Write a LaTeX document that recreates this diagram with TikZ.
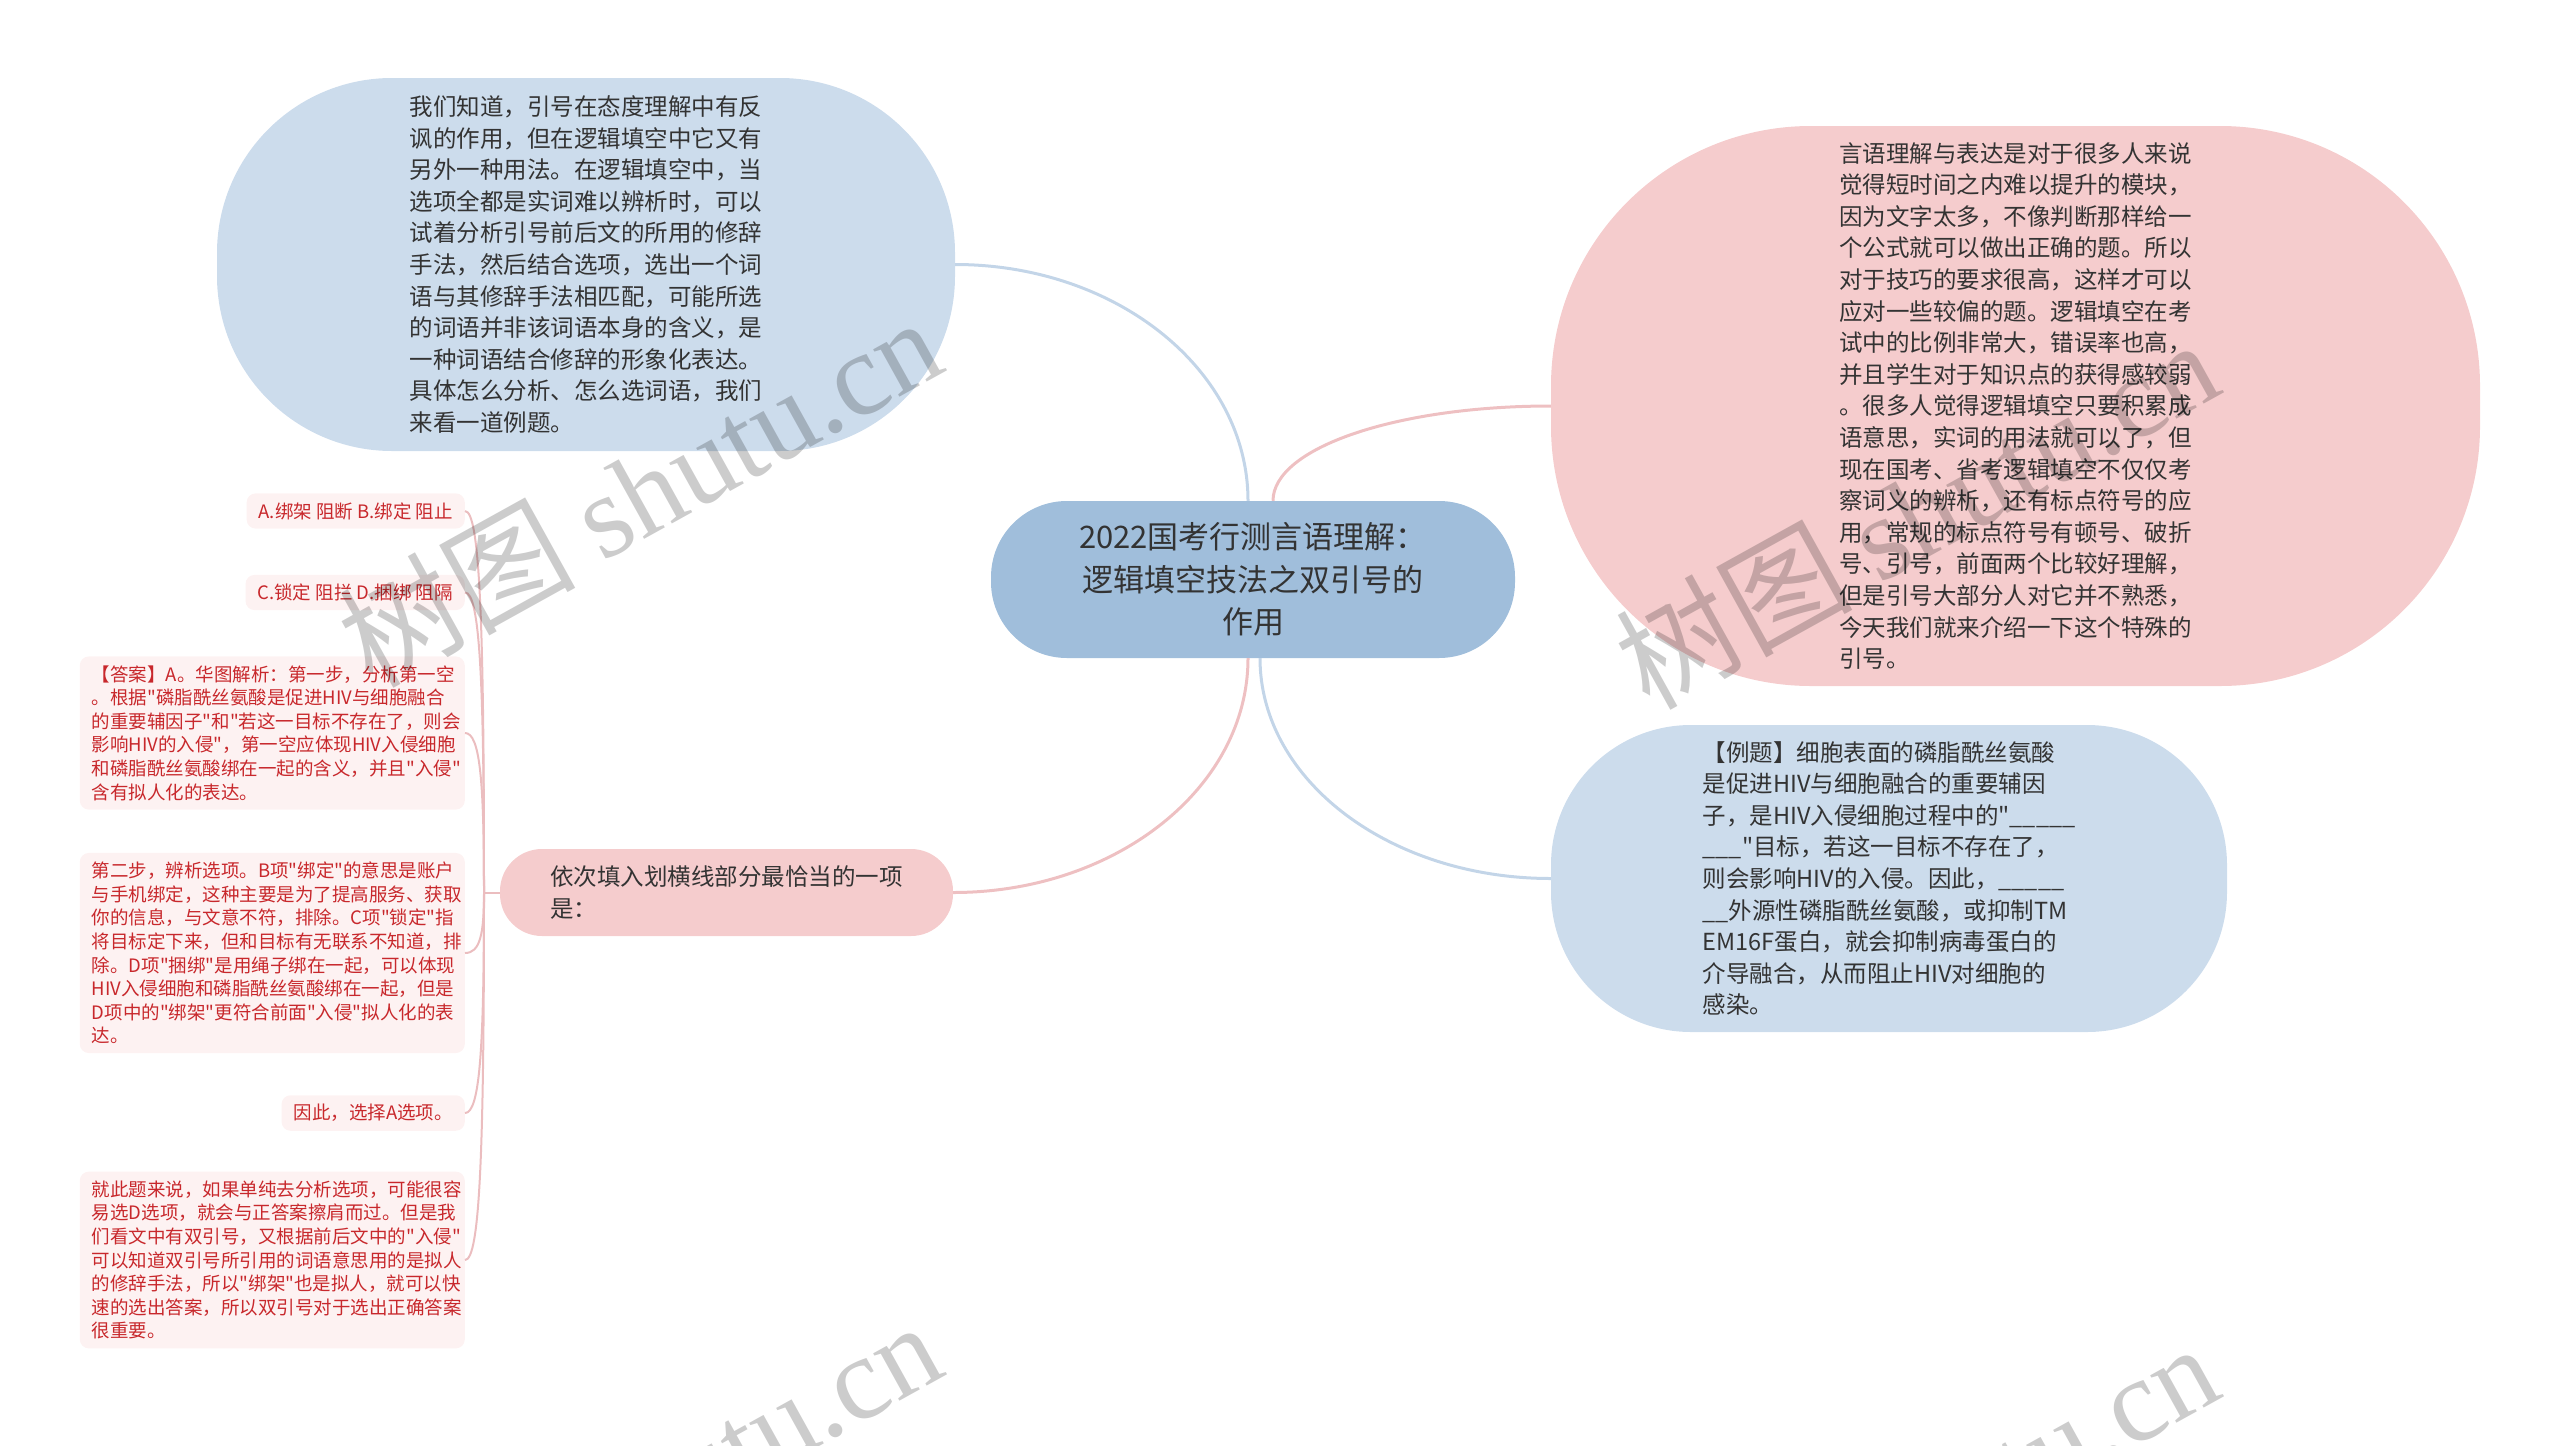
\documentclass[tikz,border=0pt]{standalone}
\usepackage{fontspec}
\setmainfont{Noto Sans CJK SC}[Ligatures=TeXOff]
\newfontfamily\wmlatin{Liberation Serif}
\definecolor{cnode}{HTML}{A0BEDB}
\definecolor{bnode}{HTML}{CCDCEC}
\definecolor{pnode}{HTML}{F5CCCD}
\definecolor{leaffill}{HTML}{FDF2F2}
\definecolor{leaftext}{HTML}{C8282C}
\definecolor{darktext}{HTML}{333333}
\definecolor{blueline}{HTML}{C3D5E8}
\definecolor{pinkline}{HTML}{EEC0C2}
\definecolor{leafline}{HTML}{EBBDBF}
\begin{document}
\begin{tikzpicture}[x=1pt,y=-1pt,
  bubble/.style={rectangle, inner sep=0pt, align=left, text=darktext, font=\fontsize{23.5}{31.6}\selectfont},
  leafbox/.style={rectangle, rounded corners=9pt, fill=leaffill, text=leaftext, align=left, inner xsep=12pt, inner ysep=9pt, anchor=east, font=\fontsize{18.5}{23.6}\selectfont},
  bline/.style={draw=blueline, line width=3pt},
  pline/.style={draw=pinkline, line width=3pt},
  lline/.style={draw=leafline, line width=2pt},
  wm/.style={anchor=base, rotate=29, text=black, opacity=0.2, font=\fontsize{118}{118}\selectfont}
]
\useasboundingbox (0,0) rectangle (2560,1446);
\clip (0,0) rectangle (2560,1446);

% main nodes
\node[bubble, fill=bnode, rounded corners=175pt, minimum width=738pt, minimum height=373pt] (tl) at (586,264.5)
{我们知道，引号在态度理解中有反\\讽的作用，但在逻辑填空中它又有\\另外一种用法。在逻辑填空中，当\\选项全都是实词难以辨析时，可以\\试着分析引号前后文的所用的修辞\\手法，然后结合选项，选出一个词\\语与其修辞手法相匹配，可能所选\\的词语并非该词语本身的含义，是\\一种词语结合修辞的形象化表达。\\具体怎么分析、怎么选词语，我们\\来看一道例题。};

\node[bubble, fill=pnode, rounded corners=260pt, minimum width=929pt, minimum height=560pt] (rp) at (2015.5,406)
{言语理解与表达是对于很多人来说\\觉得短时间之内难以提升的模块，\\因为文字太多，不像判断那样给一\\个公式就可以做出正确的题。所以\\对于技巧的要求很高，这样才可以\\应对一些较偏的题。逻辑填空在考\\试中的比例非常大，错误率也高，\\并且学生对于知识点的获得感较弱\\。很多人觉得逻辑填空只要积累成\\语意思，实词的用法就可以了，但\\现在国考、省考逻辑填空不仅仅考\\察词义的辨析，还有标点符号的应\\用，常规的标点符号有顿号、破折\\号、引号，前面两个比较好理解，\\但是引号大部分人对它并不熟悉，\\今天我们就来介绍一下这个特殊的\\引号。};

\node[bubble, fill=bnode, rounded corners=140pt, minimum width=676pt, minimum height=307pt] (br) at (1889,878.5)
{【例题】细胞表面的磷脂酰丝氨酸\\是促进HIV与细胞融合的重要辅因\\子，是HIV入侵细胞过程中的"\_\_\_\_\_\\\_\_\_"目标，若这一目标不存在了，\\则会影响HIV的入侵。因此，\_\_\_\_\_\\\_\_外源性磷脂酰丝氨酸，或抑制TM\\EM16F蛋白，就会抑制病毒蛋白的\\介导融合，从而阻止HIV对细胞的\\感染。};

\node[bubble, fill=cnode, align=center, rounded corners=76pt, minimum width=524pt, minimum height=157pt, font=\fontsize{31}{42.4}\selectfont] (c) at (1253,579.5)
{2022国考行测言语理解：\\逻辑填空技法之双引号的\\作用};

\node[bubble, fill=pnode, rounded corners=42pt, minimum width=453pt, minimum height=87pt] (lp) at (726.5,892.5)
{依次填入划横线部分最恰当的一项\\是：};

% leaves
\node[leafbox] (l1) at (465,511) {A.绑架 阻断 B.绑定 阻止};
\node[leafbox] (l2) at (465,592.5) {C.锁定 阻拦 D.捆绑 阻隔};
\node[leafbox, text width=361pt] (l3) at (465,733)
{【答案】A。华图解析：第一步，分析第一空\\。根据"磷脂酰丝氨酸是促进HIV与细胞融合\\的重要辅因子"和"若这一目标不存在了，则会\\影响HIV的入侵"，第一空应体现HIV入侵细胞\\和磷脂酰丝氨酸绑在一起的含义，并且"入侵"\\含有拟人化的表达。};
\node[leafbox, text width=361pt] (l4) at (465,953)
{第二步，辨析选项。B项"绑定"的意思是账户\\与手机绑定，这种主要是为了提高服务、获取\\你的信息，与文意不符，排除。C项"锁定"指\\将目标定下来，但和目标有无联系不知道，排\\除。D项"捆绑"是用绳子绑在一起，可以体现\\HIV入侵细胞和磷脂酰丝氨酸绑在一起，但是\\D项中的"绑架"更符合前面"入侵"拟人化的表\\达。};
\node[leafbox] (l5) at (465,1113) {因此，选择A选项。};
\node[leafbox, text width=361pt] (l6) at (465,1260)
{就此题来说，如果单纯去分析选项，可能很容\\易选D选项，就会与正答案擦肩而过。但是我\\们看文中有双引号，又根据前后文中的"入侵"\\可以知道双引号所引用的词语意思用的是拟人\\的修辞手法，所以"绑架"也是拟人，就可以快\\速的选出答案，所以双引号对于选出正确答案\\很重要。};

% main connectors
\draw[bline] ([xshift=-5pt]c.north) .. controls +(0,-131) and +(161,0) .. (tl.east);
\draw[pline] ([xshift=20pt]c.north) .. controls +(0,-53) and +(-154,0) .. (rp.west);
\draw[pline] ([xshift=-5pt]c.south) .. controls +(0,130) and +(162,0) .. (lp.east);
\draw[bline] ([xshift=7pt]c.south) .. controls +(0,122) and +(-161,0) .. (br.west);

% leaf connectors
\coordinate (hub) at (484,892.5);
\draw[lline] (lp.west) -- (hub);
\draw[lline] (l1.east) .. controls +(15,0) and +(0,-267) .. (hub);
\draw[lline] (l2.east) .. controls +(15,0) and +(0,-210) .. (hub);
\draw[lline] (l3.east) .. controls +(15,0) and +(0,-112) .. (hub);
\draw[lline] (l4.east) .. controls +(15,0) and +(0,42) .. (hub);
\draw[lline] (l5.east) .. controls +(15,0) and +(0,154) .. (hub);
\draw[lline] (l6.east) .. controls +(15,0) and +(0,257) .. (hub);

% watermarks
\node[wm] (wm1) at (661,530) {树图 {\wmlatin shutu.cn}};
\node[wm] (wm2) at (1938,552) {树图 {\wmlatin shutu.cn}};
\node[wm] (wm3) at (661,1534) {树图 {\wmlatin shutu.cn}};
\node[wm] (wm4) at (1938,1556) {树图 {\wmlatin shutu.cn}};
\end{tikzpicture}
\end{document}
